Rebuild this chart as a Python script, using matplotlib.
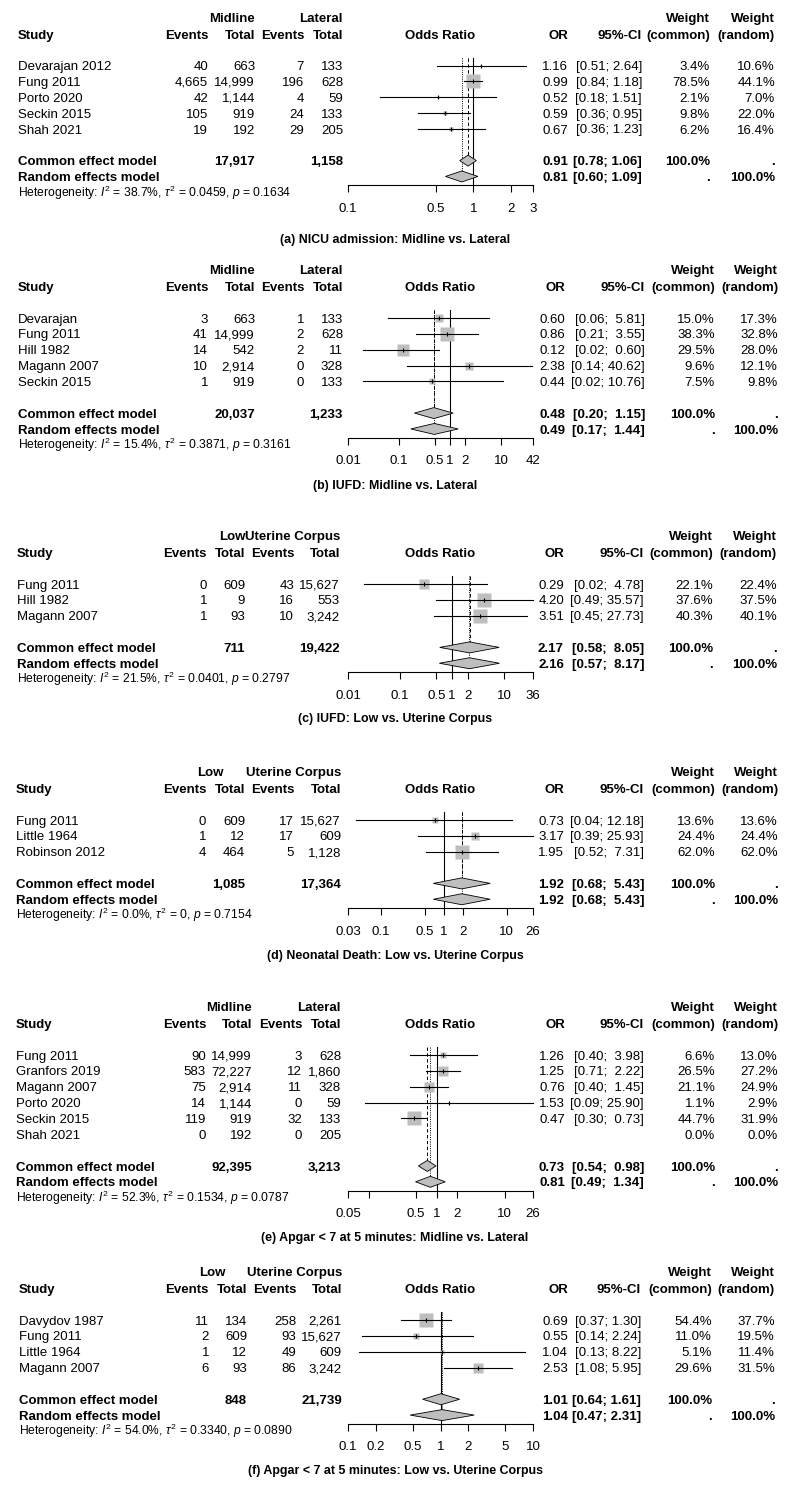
import matplotlib
matplotlib.use("Agg")
import matplotlib.pyplot as plt
import numpy as np
from matplotlib.ticker import NullLocator

FONT = "Liberation Sans"
plt.rcParams['font.family'] = [FONT, 'DejaVu Sans']
plt.rcParams['mathtext.fontset'] = 'custom'
plt.rcParams['mathtext.rm'] = FONT
plt.rcParams['mathtext.it'] = FONT + ':italic'
plt.rcParams['mathtext.bf'] = FONT + ':bold'

# ---------------- DATA ----------------
# (a) NICU admission: Midline vs. Lateral
a_study = ["Devarajan 2012", "Fung 2011", "Porto 2020", "Seckin 2015", "Shah 2021"]
a_e1 = [40, 4665, 42, 105, 19]
a_n1 = [663, 14999, 1144, 919, 192]
a_e2 = [7, 196, 4, 24, 29]
a_n2 = [133, 628, 59, 133, 205]
a_or = [1.16, 0.99, 0.52, 0.59, 0.67]
a_lo = [0.51, 0.84, 0.18, 0.36, 0.36]
a_hi = [2.64, 1.18, 1.51, 0.95, 1.23]
a_wc = [3.4, 78.5, 2.1, 9.8, 6.2]
a_wr = [10.6, 44.1, 7.0, 22.0, 16.4]
a_common = [0.91, 0.78, 1.06]
a_random = [0.81, 0.60, 1.09]
a_het = [38.7, 0.0459, 0.1634]
a_ticks = [0.1, 0.5, 1, 2, 3]
a_ticklabels = ["0.1", "0.5", "1", "2", "3"]
a_groups = ["Midline", "Lateral"]
a_title = "(a) NICU admission: Midline vs. Lateral"

# (b) IUFD: Midline vs. Lateral
b_study = ["Devarajan", "Fung 2011", "Hill 1982", "Magann 2007", "Seckin 2015"]
b_e1 = [3, 41, 14, 10, 1]
b_n1 = [663, 14999, 542, 2914, 919]
b_e2 = [1, 2, 2, 0, 0]
b_n2 = [133, 628, 11, 328, 133]
b_or = [0.60, 0.86, 0.12, 2.38, 0.44]
b_lo = [0.06, 0.21, 0.02, 0.14, 0.02]
b_hi = [5.81, 3.55, 0.60, 40.62, 10.76]
b_wc = [15.0, 38.3, 29.5, 9.6, 7.5]
b_wr = [17.3, 32.8, 28.0, 12.1, 9.8]
b_common = [0.48, 0.20, 1.15]
b_random = [0.49, 0.17, 1.44]
b_het = [15.4, 0.3871, 0.3161]
b_ticks = [0.01, 0.1, 0.5, 1, 2, 10, 42]
b_ticklabels = ["0.01", "0.1", "0.5", "1", "2", "10", "42"]
b_groups = ["Midline", "Lateral"]
b_title = "(b) IUFD: Midline vs. Lateral"

# (c) IUFD: Low vs. Uterine Corpus
c_study = ["Fung 2011", "Hill 1982", "Magann 2007"]
c_e1 = [0, 1, 1]
c_n1 = [609, 9, 93]
c_e2 = [43, 16, 10]
c_n2 = [15627, 553, 3242]
c_or = [0.29, 4.20, 3.51]
c_lo = [0.02, 0.49, 0.45]
c_hi = [4.78, 35.57, 27.73]
c_wc = [22.1, 37.6, 40.3]
c_wr = [22.4, 37.5, 40.1]
c_common = [2.17, 0.58, 8.05]
c_random = [2.16, 0.57, 8.17]
c_het = [21.5, 0.0401, 0.2797]
c_ticks = [0.01, 0.1, 0.5, 1, 2, 10, 36]
c_ticklabels = ["0.01", "0.1", "0.5", "1", "2", "10", "36"]
c_groups = ["Low", "Uterine Corpus"]
c_title = "(c) IUFD: Low vs. Uterine Corpus"

# (d) Neonatal Death: Low vs. Uterine Corpus
d_study = ["Fung 2011", "Little 1964", "Robinson 2012"]
d_e1 = [0, 1, 4]
d_n1 = [609, 12, 464]
d_e2 = [17, 17, 5]
d_n2 = [15627, 609, 1128]
d_or = [0.73, 3.17, 1.95]
d_lo = [0.04, 0.39, 0.52]
d_hi = [12.18, 25.93, 7.31]
d_wc = [13.6, 24.4, 62.0]
d_wr = [13.6, 24.4, 62.0]
d_common = [1.92, 0.68, 5.43]
d_random = [1.92, 0.68, 5.43]
d_het = [0.0, 0.0, 0.7154]
d_ticks = [0.03, 0.1, 0.5, 1, 2, 10, 26]
d_ticklabels = ["0.03", "0.1", "0.5", "1", "2", "10", "26"]
d_groups = ["Low", "Uterine Corpus"]
d_title = "(d) Neonatal Death: Low vs. Uterine Corpus"

# (e) Apgar < 7 at 5 minutes: Midline vs. Lateral
e_study = ["Fung 2011", "Granfors 2019", "Magann 2007", "Porto 2020", "Seckin 2015", "Shah 2021"]
e_e1 = [90, 583, 75, 14, 119, 0]
e_n1 = [14999, 72227, 2914, 1144, 919, 192]
e_e2 = [3, 12, 11, 0, 32, 0]
e_n2 = [628, 1860, 328, 59, 133, 205]
e_or = [1.26, 1.25, 0.76, 1.53, 0.47, None]
e_lo = [0.40, 0.71, 0.40, 0.09, 0.30, None]
e_hi = [3.98, 2.22, 1.45, 25.90, 0.73, None]
e_wc = [6.6, 26.5, 21.1, 1.1, 44.7, 0.0]
e_wr = [13.0, 27.2, 24.9, 2.9, 31.9, 0.0]
e_common = [0.73, 0.54, 0.98]
e_random = [0.81, 0.49, 1.34]
e_het = [52.3, 0.1534, 0.0787]
e_ticks = [0.05, 0.1, 0.5, 1, 2, 10, 26]
e_ticklabels = ["0.05", "", "0.5", "1", "2", "10", "26"]
e_groups = ["Midline", "Lateral"]
e_title = "(e) Apgar < 7 at 5 minutes: Midline vs. Lateral"

# (f) Apgar < 7 at 5 minutes: Low vs. Uterine Corpus
f_study = ["Davydov 1987", "Fung 2011", "Little 1964", "Magann 2007"]
f_e1 = [11, 2, 1, 6]
f_n1 = [134, 609, 12, 93]
f_e2 = [258, 93, 49, 86]
f_n2 = [2261, 15627, 609, 3242]
f_or = [0.69, 0.55, 1.04, 2.53]
f_lo = [0.37, 0.14, 0.13, 1.08]
f_hi = [1.30, 2.24, 8.22, 5.95]
f_wc = [54.4, 11.0, 5.1, 29.6]
f_wr = [37.7, 19.5, 11.4, 31.5]
f_common = [1.01, 0.64, 1.61]
f_random = [1.04, 0.47, 2.31]
f_het = [54.0, 0.3340, 0.0890]
f_ticks = [0.1, 0.2, 0.5, 1, 2, 5, 10]
f_ticklabels = ["0.1", "0.2", "0.5", "1", "2", "5", "10"]
f_groups = ["Low", "Uterine Corpus"]
f_title = "(f) Apgar < 7 at 5 minutes: Low vs. Uterine Corpus"

PANELS = [
    dict(study=a_study, e1=a_e1, n1=a_n1, e2=a_e2, n2=a_n2, est=a_or, lo=a_lo, hi=a_hi, wc=a_wc, wr=a_wr,
         common=a_common, random=a_random, het=a_het, ticks=a_ticks, ticklabels=a_ticklabels,
         groups=a_groups, title=a_title),
    dict(study=b_study, e1=b_e1, n1=b_n1, e2=b_e2, n2=b_n2, est=b_or, lo=b_lo, hi=b_hi, wc=b_wc, wr=b_wr,
         common=b_common, random=b_random, het=b_het, ticks=b_ticks, ticklabels=b_ticklabels,
         groups=b_groups, title=b_title),
    dict(study=c_study, e1=c_e1, n1=c_n1, e2=c_e2, n2=c_n2, est=c_or, lo=c_lo, hi=c_hi, wc=c_wc, wr=c_wr,
         common=c_common, random=c_random, het=c_het, ticks=c_ticks, ticklabels=c_ticklabels,
         groups=c_groups, title=c_title),
    dict(study=d_study, e1=d_e1, n1=d_n1, e2=d_e2, n2=d_n2, est=d_or, lo=d_lo, hi=d_hi, wc=d_wc, wr=d_wr,
         common=d_common, random=d_random, het=d_het, ticks=d_ticks, ticklabels=d_ticklabels,
         groups=d_groups, title=d_title),
    dict(study=e_study, e1=e_e1, n1=e_n1, e2=e_e2, n2=e_n2, est=e_or, lo=e_lo, hi=e_hi, wc=e_wc, wr=e_wr,
         common=e_common, random=e_random, het=e_het, ticks=e_ticks, ticklabels=e_ticklabels,
         groups=e_groups, title=e_title),
    dict(study=f_study, e1=f_e1, n1=f_n1, e2=f_e2, n2=f_n2, est=f_or, lo=f_lo, hi=f_hi, wc=f_wc, wr=f_wr,
         common=f_common, random=f_random, het=f_het, ticks=f_ticks, ticklabels=f_ticklabels,
         groups=f_groups, title=f_title),
]

# ---------------- LAYOUT (pixels) ----------------
LAYOUT = [
    dict(r0=65.5, cap=239, sx=18, cols=[208, 255, 304, 343], g1x=255, rcols=[568, 642, 710, 775]),
    dict(r0=318, cap=485, sx=18, cols=[208, 255, 304, 343], g1x=255, rcols=[565, 645, 715, 778]),
    dict(r0=584, cap=718, sx=17, cols=[207, 245, 294, 340], g1x=245, rcols=[564, 644, 713, 777]),
    dict(r0=820, cap=955, sx=16, cols=[206, 245, 294, 341], g1x=223, rcols=[564, 644, 715, 778]),
    dict(r0=1055, cap=1237, sx=16, cols=[206, 252, 302, 341], g1x=252, rcols=[565, 644, 715, 778]),
    dict(r0=1320, cap=1470, sx=19, cols=[209, 247, 296, 342], g1x=225, rcols=[568, 641, 712, 775]),
]

W, H = 791, 1493
STEP = 15.85
FS = 9.5
FS_HET = 8.7
FS_CAP = 8.9
BASE = 4.6          # visual centre -> baseline offset (px)
FX0, FX1 = 348, 533  # forest axis horizontal extent
BOXMAX = 14.0        # px side of largest box
DH = 5.5             # half height of diamonds (px)
GREY = "#BEBEBE"
LW = 0.8

fig = plt.figure(figsize=(W / 100, H / 100), dpi=100)
tx = fig.add_axes([0, 0, 1, 1])
tx.set_xlim(0, W)
tx.set_ylim(H, 0)
tx.axis("off")


def T(x, y, s, ha="left", bold=False, size=FS, **kw):
    tx.text(x, y + BASE * size / FS, s, ha=ha, va="baseline", fontsize=size,
            fontweight="bold" if bold else "normal", **kw)


def fmt_ci(lo, hi, width):
    return f"[{lo:.2f}; {hi:>{width}.2f}]"


for P, L in zip(PANELS, LAYOUT):
    n = len(P["study"])
    r0 = L["r0"]
    rows = [r0 + i * STEP for i in range(n)]
    y_common = rows[-1] + 2 * STEP
    y_random = y_common + STEP
    y_het = y_random + 16
    y_axis = y_random + 9
    y_top = r0 - 8
    h1 = r0 - 48.5
    h2 = r0 - 31.5
    c = L["cols"]
    rc = L["rcols"]

    his = [h for h in P["hi"] if h is not None] + [P["common"][2], P["random"][2]]
    wid = max(len(f"{h:.2f}") for h in his)

    # headers
    T(L["sx"], h2, "Study", bold=True)
    T(L["g1x"], h1, P["groups"][0], ha="right", bold=True)
    T(c[3], h1, P["groups"][1], ha="right", bold=True)
    for xc, lab in zip(c, ["Events", "Total", "Events", "Total"]):
        T(xc, h2, lab, ha="right", bold=True)
    T((FX0 + FX1) / 2, h2, "Odds Ratio", ha="center", bold=True)
    T(rc[0], h2, "OR", ha="right", bold=True)
    T(rc[1], h2, "95%-CI", ha="right", bold=True)
    T(rc[2], h1, "Weight", ha="right", bold=True)
    T(rc[2], h2, "(common)", ha="right", bold=True)
    T(rc[3], h1, "Weight", ha="right", bold=True)
    T(rc[3], h2, "(random)", ha="right", bold=True)

    # study rows (text)
    for i in range(n):
        y = rows[i]
        T(L["sx"], y, P["study"][i])
        T(c[0], y, f"{P['e1'][i]:,}", ha="right")
        T(c[1], y, f"{P['n1'][i]:,}", ha="right")
        T(c[2], y, f"{P['e2'][i]:,}", ha="right")
        T(c[3], y, f"{P['n2'][i]:,}", ha="right")
        if P["est"][i] is not None:
            T(rc[0], y, f"{P['est'][i]:.2f}", ha="right")
            T(rc[1], y, fmt_ci(P["lo"][i], P["hi"][i], wid), ha="right")
        T(rc[2], y, f"{P['wc'][i]:.1f}%", ha="right")
        T(rc[3], y, f"{P['wr'][i]:.1f}%", ha="right")

    # summary rows
    T(L["sx"], y_common, "Common effect model", bold=True)
    T(c[1], y_common, f"{sum(P['n1']):,}", ha="right", bold=True)
    T(c[3], y_common, f"{sum(P['n2']):,}", ha="right", bold=True)
    T(rc[0], y_common, f"{P['common'][0]:.2f}", ha="right", bold=True)
    T(rc[1], y_common, fmt_ci(P["common"][1], P["common"][2], wid), ha="right", bold=True)
    T(rc[2], y_common, "100.0%", ha="right", bold=True)
    T(rc[3], y_common, ".", ha="right", bold=True)
    T(L["sx"], y_random, "Random effects model", bold=True)
    T(rc[0], y_random, f"{P['random'][0]:.2f}", ha="right", bold=True)
    T(rc[1], y_random, fmt_ci(P["random"][1], P["random"][2], wid), ha="right", bold=True)
    T(rc[2], y_random, ".", ha="right", bold=True)
    T(rc[3], y_random, "100.0%", ha="right", bold=True)

    i2, tau2, pval = P["het"]
    tau_s = "0" if tau2 == 0 else f"{tau2:.4f}"
    het = (f"Heterogeneity: $I^2$ = {i2:.1f}%, $\\tau^2$ = {tau_s}, $p$ = {pval:.4f}")
    T(L["sx"], y_het, het, size=FS_HET)

    T(395, L["cap"], P["title"], ha="center", bold=True, size=FS_CAP)

    # forest axes
    ax = fig.add_axes([FX0 / W, 1 - y_axis / H, (FX1 - FX0) / W, (y_axis - y_top) / H])
    ax.patch.set_visible(False)
    ax.set_xscale("log")
    ax.set_xlim(P["ticks"][0], P["ticks"][-1])
    ax.set_ylim(y_axis, y_top)
    for s in ["top", "left", "right"]:
        ax.spines[s].set_visible(False)
    ax.spines["bottom"].set_linewidth(LW)
    ax.set_yticks([])
    ax.set_xticks(P["ticks"])
    ax.set_xticklabels(P["ticklabels"])
    ax.xaxis.set_minor_locator(NullLocator())
    ax.tick_params(axis="x", direction="out", length=5, width=LW, pad=7.5, labelsize=FS)

    # reference lines
    ax.plot([1, 1], [y_top, y_axis], color="black", lw=LW, zorder=1, clip_on=False)
    ax.plot([P["common"][0]] * 2, [y_top, y_common], color="black", lw=0.7,
            ls=(0, (3.5, 2.5)), zorder=1, clip_on=False)
    ax.plot([P["random"][0]] * 2, [y_top, y_random], color="black", lw=0.7,
            ls=(0, (1, 1.3)), zorder=1, clip_on=False)

    wmax = max(P["wc"])
    for i in range(n):
        if P["est"][i] is None:
            continue
        y = rows[i]
        size = BOXMAX * np.sqrt(P["wc"][i] / wmax)
        ax.plot([P["est"][i]], [y], marker="s", ms=size * 0.72, mfc=GREY, mec="none",
                ls="none", zorder=2, clip_on=False)
        ax.plot([P["lo"][i], P["hi"][i]], [y, y], color="black", lw=LW, zorder=3,
                clip_on=False)
        ax.plot([P["est"][i]], [y], marker="|", ms=3, mew=0.8, color="black", ls="none",
                zorder=4, clip_on=False)

    for (est, lo, hi), y in [(P["common"], y_common), (P["random"], y_random)]:
        ax.fill([lo, est, hi, est], [y, y - DH, y, y + DH], facecolor=GREY,
                edgecolor="black", lw=0.6, zorder=5, clip_on=False)

fig.savefig("out.png", dpi=100)
